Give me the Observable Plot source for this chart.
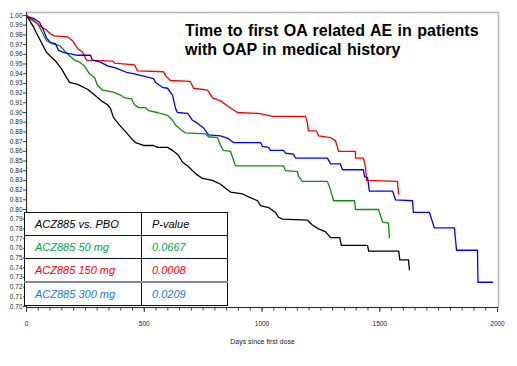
<!DOCTYPE html>
<html>
<head>
<meta charset="utf-8">
<script src="https://cdn.jsdelivr.net/npm/d3@7"></script>
<script src="https://cdn.jsdelivr.net/npm/@observablehq/plot@0.6"></script>
<style>
  html, body { margin: 0; padding: 0; background: #fff; }
  #wrap { position: relative; width: 517px; height: 366px; overflow: hidden; }
  #title { position: absolute; left: 185px; top: 21px; font: bold 16px "Liberation Sans", Arial, sans-serif; line-height: 19px; word-spacing: 1px; color: #000; white-space: nowrap; }
  #tbl { position: absolute; left: 24px; top: 212px; width: 204px; height: 94px; border-collapse: collapse; background: #fff; font: italic 11px "Liberation Sans", Arial, sans-serif; }
  #tbl td { border: 1.5px solid #111; padding: 0 0 0 10px; height: 22px; white-space: nowrap; }
  #tbl td.c1 { width: 106px; }
  #tbl tr.gray td { border-top: 2.5px solid #888; }
</style>
</head>
<body>
<div id="wrap">
  <div id="chart"></div>
  <div id="title"></div>
  <table id="tbl"></table>
</div>
<script>
// ---- data ----
const pboDays  = [0,13,30,42,55,72,85,106,127,149,170,183,217,259,289,318,344,357,369,395,425,446,463,497,539,556,599,620,645,662,688,718,747,790,824,845,866,917,943,981,994,1028,1057,1070,1087,1193,1214,1240,1270,1291,1330,1337,1448,1453,1581,1585,1622,1626];
const pboSurv  = [1.000,0.995,0.988,0.982,0.976,0.968,0.962,0.957,0.952,0.945,0.936,0.931,0.929,0.924,0.918,0.912,0.908,0.904,0.895,0.887,0.879,0.873,0.869,0.866,0.866,0.864,0.864,0.861,0.856,0.849,0.844,0.837,0.832,0.830,0.826,0.822,0.818,0.816,0.813,0.809,0.804,0.802,0.797,0.792,0.790,0.789,0.784,0.780,0.777,0.771,0.771,0.763,0.763,0.757,0.757,0.748,0.748,0.738];

const d50Days  = [0,8,25,47,68,85,110,140,153,170,204,225,246,267,289,301,323,369,399,416,446,459,476,505,518,556,599,620,633,662,675,760,773,811,824,836,866,879,887,1091,1100,1151,1155,1172,1278,1291,1304,1393,1397,1495,1512,1537,1541];
const d50Surv  = [1.000,0.998,0.995,0.992,0.982,0.974,0.971,0.969,0.966,0.961,0.954,0.952,0.948,0.940,0.936,0.928,0.923,0.921,0.918,0.915,0.914,0.908,0.905,0.905,0.902,0.900,0.897,0.892,0.887,0.881,0.879,0.878,0.875,0.874,0.866,0.861,0.860,0.851,0.845,0.845,0.840,0.839,0.834,0.829,0.829,0.820,0.809,0.809,0.800,0.800,0.787,0.786,0.771];

const d150Days = [0,17,38,64,85,102,119,174,195,217,238,255,365,374,459,471,582,590,611,696,709,769,790,824,858,896,985,1045,1185,1193,1197,1231,1240,1291,1312,1325,1397,1397,1431,1440,1444,1575,1580];
const d150Surv = [1.000,0.998,0.993,0.988,0.985,0.981,0.979,0.978,0.974,0.966,0.962,0.954,0.953,0.951,0.949,0.943,0.942,0.938,0.933,0.932,0.925,0.923,0.915,0.912,0.906,0.900,0.899,0.896,0.896,0.889,0.881,0.881,0.876,0.874,0.871,0.860,0.860,0.853,0.853,0.843,0.830,0.829,0.816];

const d300Days = [0,4,30,55,68,85,102,123,136,157,217,272,280,314,344,378,429,454,505,539,548,577,599,620,633,641,684,705,726,752,773,824,858,879,994,1002,1028,1036,1091,1100,1134,1142,1278,1291,1333,1342,1431,1435,1448,1456,1554,1567,1639,1643,1711,1732,1817,1826,1915,1917,1979];
const d300Surv = [1.000,0.998,0.997,0.993,0.987,0.977,0.972,0.971,0.964,0.962,0.959,0.959,0.954,0.952,0.948,0.946,0.941,0.940,0.937,0.935,0.931,0.926,0.925,0.918,0.904,0.900,0.899,0.892,0.889,0.884,0.877,0.876,0.873,0.869,0.869,0.865,0.864,0.861,0.861,0.858,0.857,0.853,0.853,0.847,0.847,0.841,0.841,0.834,0.833,0.819,0.819,0.810,0.809,0.797,0.797,0.781,0.781,0.758,0.758,0.725,0.725];

const seriesNames  = ["PBO", "ACZ885 50 mg", "ACZ885 150 mg", "ACZ885 300 mg"];
const seriesColors = ["#000000", "#118a11", "#ff0000", "#0000ff"];

const xTicks = [0, 500, 1000, 1500, 2000];
const xMinorTicks = d3.range(0, 2001, 50);
const yTicks = d3.range(70, 101).map(d => d / 100);
const xLabel = "Days since first dose";

const titleLines = ["Time to first OA related AE in patients", "with OAP in medical history"];

const tableHeader = ["ACZ885 vs. PBO", "P-value"];
const tableRows = ["ACZ885 50 mg", "ACZ885 150 mg", "ACZ885 300 mg"];
const tablePValues = ["0.0667", "0.0008", "0.0209"];
const tableColors = ["#00a550", "#ff0000", "#1f7ad6"];

// ---- build ----
const build = (name, xs, ys) => xs.map((x, i) => ({series: name, day: x, surv: ys[i]}));
const data = [
  ...build(seriesNames[0], pboDays, pboSurv),
  ...build(seriesNames[1], d50Days, d50Surv),
  ...build(seriesNames[2], d150Days, d150Surv),
  ...build(seriesNames[3], d300Days, d300Surv)
];

const font = '"Liberation Sans Narrow", "Liberation Sans", Arial, sans-serif';

const chart = Plot.plot({
  width: 517,
  height: 366,
  marginLeft: 26,
  marginRight: 19,
  marginTop: 12,
  marginBottom: 59,
  style: {fontFamily: font, fontSize: "6.5px", background: "#fff", color: "#222"},
  x: {domain: [0, 2000], insetRight: 1},
  y: {domain: [0.70, 1.00], insetTop: 3, insetBottom: 1},
  color: {domain: seriesNames, range: seriesColors},
  marks: [
    Plot.frame({stroke: "#b4b4b4", strokeWidth: 1.5}),
    Plot.line(data, {x: "day", y: "surv", z: "series", stroke: "series", strokeWidth: 1.3, curve: "linear"}),
    Plot.ruleX([0], {stroke: "#333", strokeWidth: 1}),
    Plot.ruleY([0.70], {stroke: "#333", strokeWidth: 1, dy: 1}),
    Plot.axisX({ticks: xMinorTicks, tickSize: 2.5, tickFormat: () => "", label: null, dy: 1, stroke: "#444"}),
    Plot.axisX({ticks: xTicks, tickSize: 4, tickPadding: 9, tickFormat: d => String(d), label: null, dy: 1, stroke: "#444", fontSize: 6.5}),
    Plot.axisY({ticks: yTicks, tickSize: 3, tickPadding: 1, tickFormat: d3.format(".2f"), label: null, stroke: "#444", fontSize: 6.5}),
    Plot.text([xLabel], {frameAnchor: "bottom", dy: 36, fontSize: 7, fill: "#222"})
  ]
});
document.getElementById("chart").appendChild(chart);

// title
document.getElementById("title").innerHTML = titleLines.join("<br>");

// table
const tbl = document.getElementById("tbl");
const hr = tbl.insertRow();
tableHeader.forEach((h, i) => { const c = hr.insertCell(); c.textContent = h; if (i === 0) c.className = "c1"; });
tableRows.forEach((r, i) => {
  const tr = tbl.insertRow();
  if (i === 2) tr.className = "gray";
  const a = tr.insertCell(); a.textContent = r; a.className = "c1"; a.style.color = tableColors[i];
  const b = tr.insertCell(); b.textContent = tablePValues[i]; b.style.color = tableColors[i];
});
</script>
</body>
</html>
